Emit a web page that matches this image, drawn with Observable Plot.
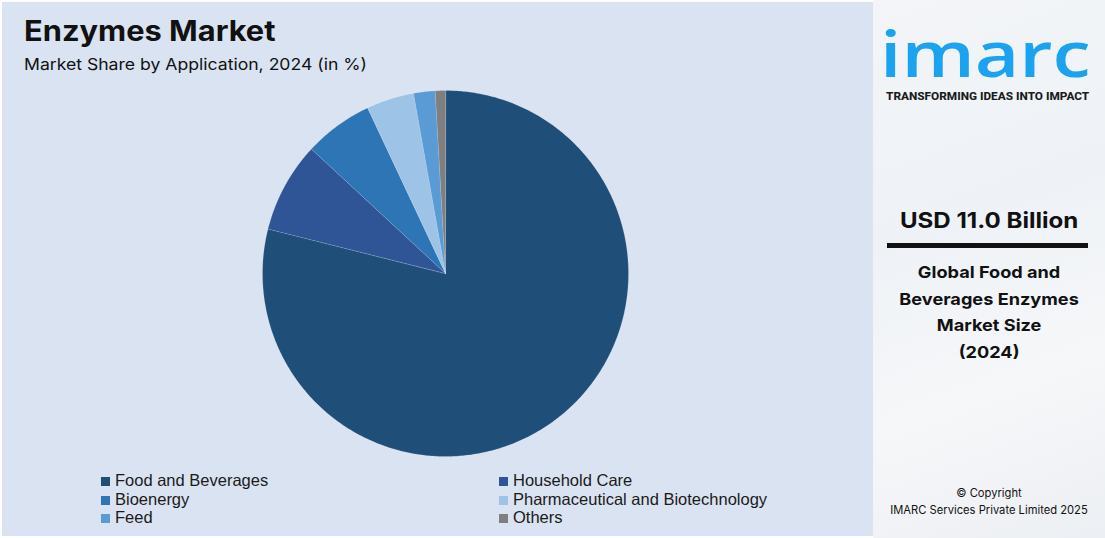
<!DOCTYPE html>
<html>
<head>
<meta charset="utf-8">
<script src="https://cdn.jsdelivr.net/npm/d3@7"></script>
<script src="https://cdn.jsdelivr.net/npm/@observablehq/plot@0.6"></script>
<style>
  html, body { margin: 0; padding: 0; }
  body { width: 1105px; height: 538px; position: relative; overflow: hidden; background: #ffffff; font-family: "Inter", "Roboto", sans-serif; }
  #left { position: absolute; left: 2px; top: 2px; width: 871px; height: 534px; background: #dae3f2; }
  #right { position: absolute; left: 873px; top: 0; width: 232px; height: 538px;
    background: linear-gradient(160deg, #f3f5f8 0%, #eef2f6 40%, #f6f7f9 70%, #eceff3 100%); }
  #title { position: absolute; left: 24px; top: 13px; font-size: 28px; line-height: 36px; font-weight: 700; color: #111; transform: scaleX(1.1); transform-origin: left top; white-space: nowrap; }
  #subtitle { position: absolute; left: 24px; top: 53px; font-size: 16px; line-height: 22px; color: #111; transform: scaleX(1.1); transform-origin: left top; white-space: nowrap; }
  #chart { position: absolute; left: 262px; top: 90px; }
  #legend { position: absolute; left: 101px; top: 471px; font-family: "Liberation Sans", Arial, sans-serif; font-size: 16.5px; color: #1a1a1a; }
  .item { position: absolute; white-space: nowrap; line-height: 19px; }
  .sw { display: inline-block; width: 9px; height: 9px; margin-right: 5px; vertical-align: 0px; }
  .r { position: absolute; width: 232px; text-align: center; color: #111; font-weight: 700; transform-origin: 115px 0; white-space: nowrap; }
  #logo { position: absolute; left: 880px; top: 23px; font-family: "Open Sans", sans-serif; font-weight: 600; font-size: 64px; line-height: 60px; color: #1ba3ef; transform: scaleX(1.2); transform-origin: left top; white-space: nowrap; }
  #tag { position: absolute; left: 886px; top: 89px; font-size: 11.8px; line-height: 14px; font-weight: 800; color: #1b1b1b; font-family: "Roboto", sans-serif; white-space: nowrap; }
</style>
</head>
<body>
<div id="left"></div>
<div id="right"></div>
<div id="title">Enzymes Market</div>
<div id="subtitle">Market Share by Application, 2024 (in %)</div>
<div id="chart"></div>
<div id="legend"></div>
<div id="logo">imarc</div>
<div id="tag">TRANSFORMING IDEAS INTO IMPACT</div>
<div class="r" style="left:873px; top:207px; font-size:21.5px; line-height:26px; transform:scaleX(1.12);">USD 11.0 Billion</div>
<div style="position:absolute; left:887px; top:243px; width:201px; height:5px; background:#111;"></div>
<div class="r" style="left:873px; top:259px; font-size:16.5px; line-height:26.5px; transform:scaleX(1.1);">Global Food and<br>Beverages Enzymes<br>Market Size<br>(2024)</div>
<div class="r" style="left:873px; top:485px; font-size:11.2px; font-weight:400; line-height:17px;">© Copyright<br>IMARC Services Private Limited 2025</div>
<script>
const categories = ["Food and Beverages", "Household Care", "Bioenergy", "Pharmaceutical and Biotechnology", "Feed", "Others"];
const shares = [78.9, 8.0, 6.1, 4.2, 1.9, 0.9];
const colors = ["#1f4e79", "#2f5597", "#2e75b6", "#9dc3e6", "#5b9bd5", "#7f7f7f"];
const legendOrder = [
  ["Food and Beverages", "Household Care"],
  ["Bioenergy", "Pharmaceutical and Biotechnology"],
  ["Feed", "Others"]
];

const data = categories.map((c, i) => ({category: c, share: shares[i]}));
const arcs = d3.pie().value(d => d.share).sort(null)(data);
// wedge outlines in unit-circle coordinates (angle 0 at top, clockwise)
const pts = [];
for (const a of arcs) {
  const cat = a.data.category;
  pts.push({category: cat, x: 0, y: 0});
  const n = Math.max(4, Math.ceil((a.endAngle - a.startAngle) / 0.01));
  for (let k = 0; k <= n; k++) {
    const t = a.startAngle + (a.endAngle - a.startAngle) * k / n;
    pts.push({category: cat, x: Math.sin(t), y: Math.cos(t)});
  }
}

const size = 366;
const plot = Plot.plot({
  width: size, height: size,
  margin: 0,
  x: {domain: [-1, 1], axis: null},
  y: {domain: [-1, 1], axis: null},
  color: {domain: categories, range: colors},
  style: {background: "transparent", overflow: "visible"},
  marks: [
    Plot.line(pts, {x: "x", y: "y", z: "category", fill: "category", stroke: "#ffffff", strokeOpacity: 0.25, strokeWidth: 0.6, curve: "linear-closed"})
  ]
});
document.getElementById("chart").appendChild(plot);

const legend = document.getElementById("legend");
legendOrder.forEach((row, ri) => {
  row.forEach((cat, ci) => {
    const el = document.createElement("div");
    el.className = "item";
    el.style.left = (ci * 398) + "px";
    el.style.top = (ri * 18.5) + "px";
    const sw = document.createElement("span");
    sw.className = "sw";
    sw.style.background = colors[categories.indexOf(cat)];
    el.appendChild(sw);
    el.appendChild(document.createTextNode(cat));
    legend.appendChild(el);
  });
});
</script>
</body>
</html>
